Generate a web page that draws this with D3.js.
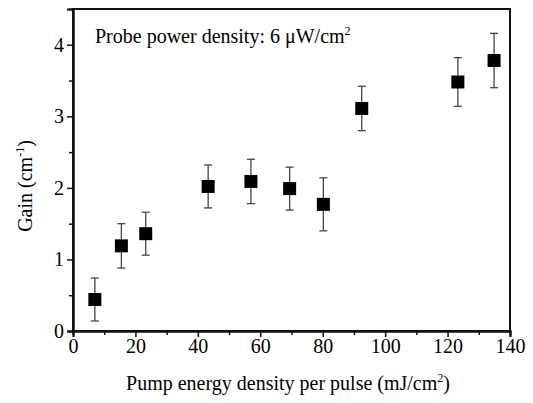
<!DOCTYPE html>
<html>
<head>
<meta charset="utf-8">
<script src="https://cdn.jsdelivr.net/npm/d3@7"></script>
<style>
  body { margin: 0; background: #fff; }
  text { font-family: "Liberation Serif", "Times New Roman", serif; fill: #000; }
</style>
</head>
<body>
<div id="chart"></div>
<script>
// values
let pumpEnergy = [7, 15.5, 23.3, 43.3, 57, 69.4, 80.2, 92.5, 123.3, 134.9];
let gain       = [0.44, 1.19, 1.36, 2.02, 2.09, 1.99, 1.77, 3.11, 3.48, 3.78];
let gainErr    = [0.30, 0.31, 0.30, 0.30, 0.31, 0.30, 0.37, 0.31, 0.34, 0.38];
let xTicks = [0, 20, 40, 60, 80, 100, 120, 140];
let yTicks = [0, 1, 2, 3, 4];

let W = 533, H = 403;
let margin = {left: 73, right: 23, top: 9, bottom: 72};

let svg = d3.select("#chart")
            .append("svg")
                .attr("width", W)
                .attr("height", H);

let x = d3.scaleLinear().domain([0, 140]).range([margin.left, W - margin.right]);
let y = d3.scaleLinear().domain([0, 4.5]).range([H - margin.bottom, margin.top]);

// frame
svg.append("rect")
    .attr("x", x(0)).attr("y", y(4.5))
    .attr("width", x(140) - x(0)).attr("height", y(0) - y(4.5))
    .attr("fill", "none").attr("stroke", "#111").attr("stroke-width", 2);

// x axis, major + minor ticks
svg.append("g").attr("transform", "translate(0," + y(0) + ")")
    .call(d3.axisBottom(x).tickValues(xTicks).tickSize(6).tickPadding(2).tickFormat(d3.format("d")));
svg.append("g").attr("transform", "translate(0," + y(0) + ")")
    .call(d3.axisBottom(x).tickValues(d3.range(10, 140, 20)).tickSize(4).tickFormat(""));

svg.append("g").attr("transform", "translate(" + x(0) + ",0)")
    .call(d3.axisLeft(y).tickValues(yTicks).tickSize(6).tickPadding(3).tickFormat(d3.format("d")));
svg.append("g").attr("transform", "translate(" + x(0) + ",0)")
    .call(d3.axisLeft(y).tickValues([0.5, 1.5, 2.5, 3.5]).tickSize(4).tickFormat(""));

svg.selectAll(".domain").attr("stroke", "#111").attr("stroke-width", 2);
svg.selectAll(".tick line").attr("stroke", "#111").attr("stroke-width", 1.5);
svg.selectAll(".tick text")
    .style("font-family", "'Liberation Serif', serif")
    .style("font-size", "20px")
    .attr("fill", "#000");

// error bars
let pts = pumpEnergy.map(function(d, i){ return {x: d, y: gain[i], e: gainErr[i]}; });

let eb = svg.append("g").attr("stroke", "#444").attr("stroke-width", 1.3);
eb.selectAll("line.v").data(pts).enter().append("line")
    .attr("x1", d => x(d.x)).attr("x2", d => x(d.x))
    .attr("y1", d => y(d.y - d.e)).attr("y2", d => y(d.y + d.e));
eb.selectAll("line.t").data(pts).enter().append("line")
    .attr("x1", d => x(d.x) - 4).attr("x2", d => x(d.x) + 4)
    .attr("y1", d => y(d.y + d.e)).attr("y2", d => y(d.y + d.e));
eb.selectAll("line.b").data(pts).enter().append("line")
    .attr("x1", d => x(d.x) - 4).attr("x2", d => x(d.x) + 4)
    .attr("y1", d => y(d.y - d.e)).attr("y2", d => y(d.y - d.e));

// squares
let s = 13;
svg.selectAll("rect.pt").data(pts).enter().append("rect")
    .attr("class", "pt")
    .attr("x", d => x(d.x) - s / 2)
    .attr("y", d => y(d.y) - s / 2)
    .attr("width", s).attr("height", s)
    .attr("fill", "#000");

// annotation
let note = svg.append("text")
    .attr("x", 95).attr("y", 43)
    .style("font-size", "20px");
note.append("tspan").text("Probe power density: 6 \u03bcW/cm");
note.append("tspan").attr("dy", -8).style("font-size", "12px").text("2");

// axis titles
let xt = svg.append("text")
    .attr("x", 288).attr("y", 390)
    .attr("text-anchor", "middle")
    .style("font-size", "20px");
xt.append("tspan").text("Pump energy density per pulse (mJ/cm");
xt.append("tspan").attr("dy", -8).style("font-size", "12px").text("2");
xt.append("tspan").attr("dy", 8).text(")");

let yt = svg.append("text")
    .attr("transform", "translate(32," + 186 + ") rotate(-90)")
    .attr("text-anchor", "middle")
    .style("font-size", "20px");
yt.append("tspan").text("Gain (cm");
yt.append("tspan").attr("dy", -8).style("font-size", "12px").text("-1");
yt.append("tspan").attr("dy", 8).text(")");
</script>
</body>
</html>
